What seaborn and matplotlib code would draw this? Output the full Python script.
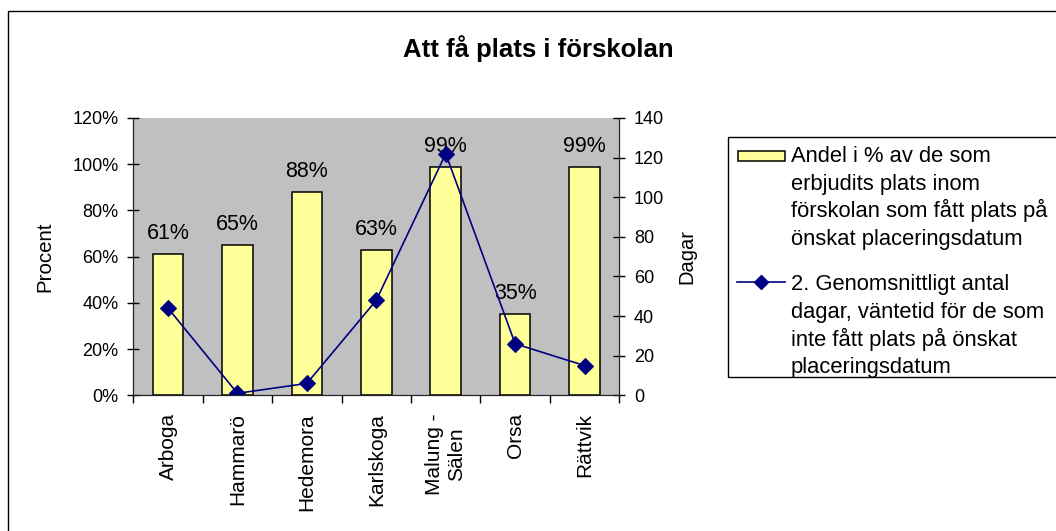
import numpy as np
import matplotlib
matplotlib.use("Agg")
import matplotlib.pyplot as plt
from matplotlib.patches import Rectangle
from matplotlib.lines import Line2D
from matplotlib.ticker import PercentFormatter, FixedLocator
import seaborn as sns

# data
kommuner = ["Arboga", "Hammarö", "Hedemora", "Karlskoga", "Malung -\nSälen", "Orsa", "Rättvik"]
andel = [0.61, 0.65, 0.88, 0.63, 0.99, 0.35, 0.99]
dagar = [44, 1, 6, 48, 122, 26, 15]
andel_labels = ["61%", "65%", "88%", "63%", "99%", "35%", "99%"]

bar_label = ["Andel i % av de som", "erbjudits plats inom",
             "förskolan som fått plats på", "önskat placeringsdatum"]
line_label = ["2. Genomsnittligt antal", "dagar, väntetid för de som",
              "inte fått plats på önskat", "placeringsdatum"]

plt.rcParams["font.family"] = ["Liberation Sans", "DejaVu Sans"]

W, H = 1056, 531
fig = plt.figure(figsize=(W / 100, H / 100), dpi=100)
ax = fig.add_axes([133.3 / W, 1 - 395.3 / H, 486 / W, 277.3 / H])
ax.set_facecolor("#C0C0C0")

bar_color = "#FFFF99"
line_color = "#000080"

sns.barplot(x=kommuner, y=andel, ax=ax, color=bar_color, saturation=1,
            edgecolor="black", linewidth=1.1, width=0.44)

# percentage labels above the bars
for i, (v, lab) in enumerate(zip(andel, andel_labels)):
    ax.annotate(lab, (i, v), xytext=(0, 10.8), textcoords="offset points",
                ha="center", va="baseline", fontsize=15.5)

ax.set_ylim(0, 1.2)
ax.set_yticks(np.arange(0, 1.21, 0.2))
ax.yaxis.set_major_formatter(PercentFormatter(1.0, decimals=0))
ax.set_xlim(-0.5, len(kommuner) - 0.5)
ax.tick_params(axis="y", direction="inout", length=9, width=1, labelsize=13, pad=6)
ax.tick_params(axis="x", which="major", length=0, labelsize=15, pad=13)
ax.xaxis.set_minor_locator(FixedLocator(np.arange(-0.5, len(kommuner), 1.0)))
ax.tick_params(axis="x", which="minor", direction="out", length=6, width=1)
for t in ax.get_xticklabels():
    t.set_rotation(90)
    t.set_multialignment("center")
ax.set_xlabel("")
ax.set_ylabel("Procent", fontsize=14.8)
ax.yaxis.set_label_coords(-0.163, 0.5)
ax.spines["top"].set_visible(False)

ax2 = ax.twinx()
sns.lineplot(x=np.arange(len(kommuner)), y=dagar, ax=ax2, color=line_color,
             marker="D", markersize=8, markeredgecolor=line_color, linewidth=1.2)
ax2.set_ylim(0, 140)
ax2.set_yticks(np.arange(0, 141, 20))
ax2.tick_params(axis="y", direction="inout", length=9, width=1, labelsize=13, pad=6)
ax2.set_ylabel("Dagar", fontsize=14.5)
ax2.yaxis.set_label_coords(1.119, 0.5)
ax2.spines["top"].set_visible(False)
for a in (ax, ax2):
    for s in a.spines.values():
        s.set_color("#222222")


# legend drawn by hand so the keys sit next to the first line of each label
def fx(px):
    return px / W


def fy(py):
    return 1 - py / H


tf = fig.transFigure
fig.patches.append(Rectangle((fx(728), fy(376.7)), fx(1070) - fx(728), fy(136.7) - fy(376.7),
                             transform=tf, fill=False, edgecolor="black", linewidth=1))
fig.patches.append(Rectangle((fx(737.7), fy(160.7)), fx(785) - fx(737.7), fy(150.7) - fy(160.7),
                             transform=tf, facecolor=bar_color, edgecolor="black", linewidth=1.1))
fig.lines.append(Line2D([fx(736.7), fx(785)], [fy(281.7), fy(281.7)], transform=tf,
                        color=line_color, linewidth=1.2))
fig.lines.append(Line2D([fx(761)], [fy(281.7)], transform=tf, color=line_color,
                        marker="D", markersize=7, linestyle="none"))
step = 27.8
for base, lines in ((161.7, bar_label), (290.0, line_label)):
    for k, txt in enumerate(lines):
        fig.text(fx(791), fy(base + k * step), txt, ha="left", va="baseline", fontsize=15.8)

fig.text(538 / W, 1 - 56.7 / H, "Att få plats i förskolan", ha="center",
         va="baseline", fontsize=18.5, fontweight="bold")

# outer chart frame
fig.patches.append(Rectangle((8 / W, -0.1), 2, 1.1 - 11 / H, transform=tf,
                             fill=False, edgecolor="black", linewidth=1))

fig.savefig("out.png", dpi=100)
